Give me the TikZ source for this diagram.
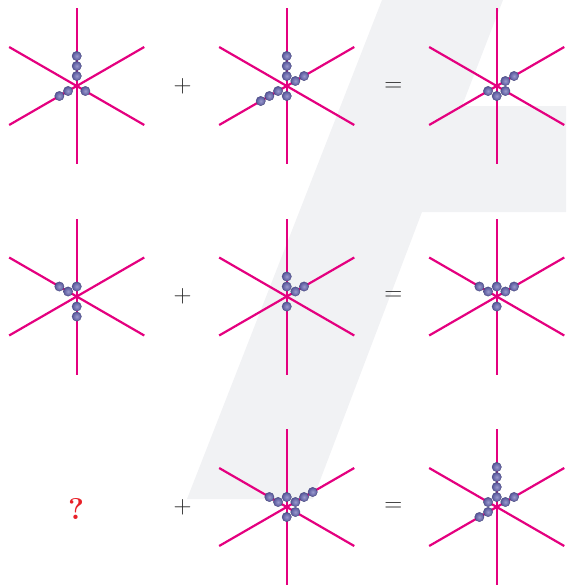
\documentclass[tikz,border=0pt]{standalone}
\usepackage{tikz}
\usetikzlibrary{calc}
\definecolor{armcol}{RGB}{228,0,127}
\definecolor{beadcol}{RGB}{100,100,180}
\definecolor{bgcol}{RGB}{241,242,244}
\definecolor{qcol}{RGB}{232,32,40}
\definecolor{opcol}{RGB}{40,40,40}
\newcommand{\hexstar}[2]{%
  \foreach \a in {30,90,...,330} \draw[arm] (#1) -- ++(\a:78);
  \foreach \a/\n in {#2} {\foreach \k in {1,...,\n} \node[bead] at ($(#1)+(\a:10*\k)$) {};}
}

\begin{document}
\begin{tikzpicture}[x=1pt,y=1pt,
  arm/.style={armcol,line width=2.2pt},
  bead/.style={circle,inner sep=0pt,minimum size=9.4pt,draw=beadcol!65!black,line width=0.3pt,
    inner color=beadcol!65!white,outer color=beadcol!85!black},
  op/.style={font=\fontsize{23}{25}\selectfont,opcol}
]
\useasboundingbox (0,0) rectangle (566,-587);
\fill[bgcol] (382,0) -- (503,0) -- (462,-106) -- (566,-106) -- (566,-212) -- (422,-212)
  -- (313,-499) -- (187,-499) -- cycle;

\coordinate (s11) at (76.7,-86);
\coordinate (s12) at (286.7,-86);
\coordinate (s13) at (496.7,-86);
\coordinate (s21) at (76.7,-296.5);
\coordinate (s22) at (286.7,-296.5);
\coordinate (s23) at (496.7,-296.5);
\coordinate (s32) at (286.7,-507);
\coordinate (s33) at (496.7,-507);

\hexstar{s11}{90/3,210/2,330/1}
\hexstar{s12}{90/3,30/2,210/3,270/1}
\hexstar{s13}{30/2,210/1,270/1,330/1}
\hexstar{s21}{150/2,90/1,270/2}
\hexstar{s22}{90/2,30/2,270/1}
\hexstar{s23}{150/2,90/1,30/2,270/1}
\hexstar{s32}{150/2,90/1,30/3,270/1,330/1}
\hexstar{s33}{90/4,150/1,30/2,210/2}

\node[op] (plus1) at (182.7,-86.7) {$+$};
\node[op] (eq1) at (393.3,-86.7) {$=$};
\node[op] (plus2) at (182.7,-296.5) {$+$};
\node[op] (eq2) at (393.3,-296.5) {$=$};
\node[op] (plus3) at (182.7,-507) {$+$};
\node[op] (eq3) at (393.3,-507) {$=$};
\node[font=\bfseries\fontsize{30}{32}\selectfont,qcol] (qm) at (76,-509) {?};
\end{tikzpicture}
\end{document}
